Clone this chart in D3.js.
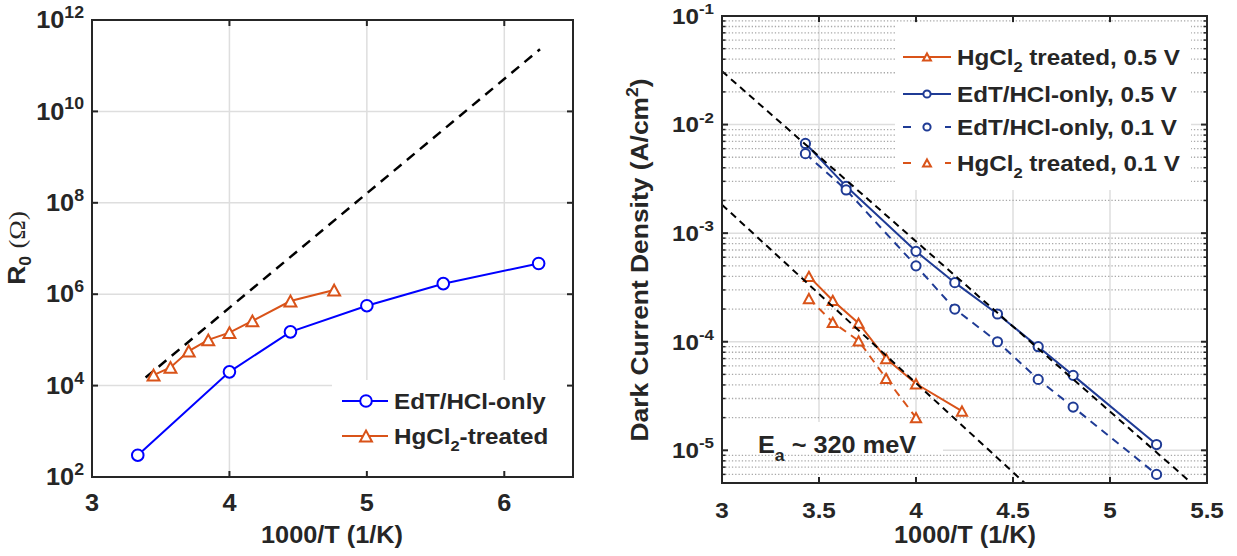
<!DOCTYPE html>
<html>
<head>
<meta charset="utf-8">
<script src="https://cdn.jsdelivr.net/npm/d3@7"></script>
<style>
  body { margin: 0; background: #fff; }
  svg { display: block; }
  text { font-family: "Liberation Sans", Arial, sans-serif; font-weight: bold; fill: #262626; }
</style>
</head>
<body>
<svg id="fig" width="1237" height="556"></svg>
<script>
// ---- left panel data: R0 vs 1000/T ----
var edtX = [3.333, 4.0, 4.444, 5.0, 5.556, 6.25];
var edtR0 = [300, 2.0e4, 1.5e5, 5.6e5, 1.7e6, 4.7e6];
var hgX = [3.448, 3.571, 3.704, 3.846, 4.0, 4.167, 4.444, 4.762];
var hgR0 = [1.7e4, 2.5e4, 5.7e4, 1.0e5, 1.44e5, 2.6e5, 7.1e5, 1.23e6];
var r0FitX = [3.39, 6.26];
var r0FitY = [1.5e4, 2.3e11];
var leftXTicks = [3, 4, 5, 6];
var leftYTicks = [1e2, 1e4, 1e6, 1e8, 1e10, 1e12];

// ---- right panel data: dark current density vs 1000/T ----
var edtJX = [3.43, 3.64, 4.0, 4.2, 4.42, 4.63, 4.81, 5.24];
var edtJ05 = [6.7e-3, 2.7e-3, 6.8e-4, 3.5e-4, 1.8e-4, 9.0e-5, 4.9e-5, 1.13e-5];
var edtJ01 = [5.4e-3, 2.5e-3, 5.0e-4, 2.0e-4, 1.0e-4, 4.5e-5, 2.5e-5, 6.0e-6];
var hgJX05 = [3.448, 3.571, 3.704, 3.846, 4.0, 4.237];
var hgJ05 = [4.0e-4, 2.4e-4, 1.48e-4, 7.0e-5, 4.1e-5, 2.3e-5];
var hgJX01 = [3.448, 3.571, 3.704, 3.846, 4.0];
var hgJ01 = [2.5e-4, 1.51e-4, 1.02e-4, 4.6e-5, 2.0e-5];
var fitUpperX = [3.0, 5.42], fitUpperY = [3.1e-2, 5e-6];
var fitLowerX = [3.0, 4.56], fitLowerY = [1.83e-3, 5e-6];
var rightXTicks = [3, 3.5, 4, 4.5, 5, 5.5];
var rightXLabels = ["3", "3.5", "4", "4.5", "5", "5.5"];
var rightYTicks = [1e-5, 1e-4, 1e-3, 1e-2, 1e-1];

var blue = "#0000ff", orange = "#d95319", navy = "#1f3b95";
var axisCol = "#262626", gridCol = "#dedede";
var SX = 1.1;   // the original text is rendered a bit wide

var svg = d3.select("#fig");

function stext(g, x, y, size, anchor, rot) {
    var gg = g.append("g")
        .attr("transform", "translate(" + x + "," + y + ")" + (rot ? " rotate(-90)" : "") + " scale(" + SX + ",1)");
    return gg.append("text").attr("font-size", size).attr("text-anchor", anchor);
}

function powLabel(g, x, y, exp, size) {
    var t = stext(g, x, y + size * 0.36, size, "end");
    t.append("tspan").text("10");
    t.append("tspan").attr("dy", -size * 0.45).attr("font-size", size * 0.7).text(exp);
}

function triPath(s) {
    return "M0," + (-s) + "L" + (s * 1.1) + "," + s + "L" + (-s * 1.1) + "," + s + "Z";
}

function drawSeries(g, xs, ys, x, y, col, dash, marker, ms) {
    var pts = xs.map(function(d, i) { return [x(d), y(ys[i])]; });
    g.append("path")
        .attr("d", d3.line()(pts))
        .attr("fill", "none").attr("stroke", col).attr("stroke-width", 2)
        .attr("stroke-dasharray", dash || null);
    pts.forEach(function(p) {
        if (marker == "o") {
            g.append("circle").attr("cx", p[0]).attr("cy", p[1]).attr("r", ms)
                .attr("fill", "#fff").attr("stroke", col).attr("stroke-width", 2);
        } else {
            g.append("path").attr("d", triPath(ms)).attr("transform", "translate(" + p[0] + "," + p[1] + ")")
                .attr("fill", "#fff").attr("stroke", col).attr("stroke-width", 2);
        }
    });
}

function legendMarker(g, x, y, marker, ms, col) {
    if (marker == "o") {
        g.append("circle").attr("cx", x).attr("cy", y).attr("r", ms)
            .attr("fill", "#fff").attr("stroke", col).attr("stroke-width", 2);
    } else {
        g.append("path").attr("d", triPath(ms)).attr("transform", "translate(" + x + "," + y + ")")
            .attr("fill", "#fff").attr("stroke", col).attr("stroke-width", 2);
    }
}

// ================= LEFT PANEL =================
var xL = d3.scaleLinear().domain([3, 6.5]).range([92, 573]);
var yL = d3.scaleLog().domain([1e2, 1e12]).range([477, 20]);
var gl = svg.append("g");

// grid
leftXTicks.slice(1).forEach(function(v) {
    gl.append("line").attr("x1", xL(v)).attr("x2", xL(v)).attr("y1", yL.range()[1]).attr("y2", yL.range()[0])
        .attr("stroke", gridCol).attr("stroke-width", 1.5);
});
leftYTicks.slice(1, -1).forEach(function(v) {
    gl.append("line").attr("x1", xL.range()[0]).attr("x2", xL.range()[1]).attr("y1", yL(v)).attr("y2", yL(v))
        .attr("stroke", gridCol).attr("stroke-width", 1.5);
});

// legend background
gl.append("rect").attr("x", 332).attr("y", 380).attr("width", 240).attr("height", 96).attr("fill", "#fff");

// fit line
gl.append("path")
    .attr("d", d3.line()(r0FitX.map(function(d, i) { return [xL(d), yL(r0FitY[i])]; })))
    .attr("stroke", "#000").attr("stroke-width", 2.5).attr("stroke-dasharray", "10,7").attr("fill", "none");

drawSeries(gl, edtX, edtR0, xL, yL, blue, null, "o", 5.8);
drawSeries(gl, hgX, hgR0, xL, yL, orange, null, "^", 5.4);

// box and ticks
gl.append("rect").attr("x", 92).attr("y", 20).attr("width", 481).attr("height", 457)
    .attr("fill", "none").attr("stroke", axisCol).attr("stroke-width", 2);
leftXTicks.forEach(function(v) {
    gl.append("line").attr("x1", xL(v)).attr("x2", xL(v)).attr("y1", 477).attr("y2", 471).attr("stroke", axisCol).attr("stroke-width", 2);
    gl.append("line").attr("x1", xL(v)).attr("x2", xL(v)).attr("y1", 20).attr("y2", 26).attr("stroke", axisCol).attr("stroke-width", 2);
    stext(gl, xL(v), 511, 23, "middle").text(String(v));
});
leftYTicks.forEach(function(v) {
    gl.append("line").attr("x1", 92).attr("x2", 98).attr("y1", yL(v)).attr("y2", yL(v)).attr("stroke", axisCol).attr("stroke-width", 2);
    gl.append("line").attr("x1", 573).attr("x2", 567).attr("y1", yL(v)).attr("y2", yL(v)).attr("stroke", axisCol).attr("stroke-width", 2);
    powLabel(gl, 84, yL(v), String(Math.round(Math.log10(v))), 23);
});

stext(gl, 332, 543, 23, "middle").text("1000/T (1/K)");
var ylab = stext(gl, 25, 248, 24, "middle", true);
ylab.append("tspan").text("R");
ylab.append("tspan").attr("font-size", 16).attr("dy", 6).text("0");
ylab.append("tspan").attr("dy", -6).text(" ");
ylab.append("tspan").attr("font-family", "'Liberation Serif', serif").attr("font-weight", "normal").text("(\u03A9)");

// legend
[["EdT/HCl-only", blue, "o", 401], ["HgCl|2|-treated", orange, "^", 436]].forEach(function(e) {
    gl.append("line").attr("x1", 342).attr("x2", 388).attr("y1", e[3]).attr("y2", e[3]).attr("stroke", e[1]).attr("stroke-width", 2);
    legendMarker(gl, 366, e[3], e[2], e[2] == "o" ? 5.8 : 5.4, e[1]);
    var t = stext(gl, 394, e[3] + 8, 22, "start");
    var parts = e[0].split("|");
    t.append("tspan").text(parts[0]);
    if (parts.length > 1) {
        t.append("tspan").attr("font-size", 15).attr("dy", 7).text(parts[1]);
        t.append("tspan").attr("dy", -7).text(parts[2]);
    }
});

// ================= RIGHT PANEL =================
var xR = d3.scaleLinear().domain([3, 5.5]).range([722, 1207]);
var yR = d3.scaleLog().domain([5e-6, 0.1]).range([483, 16]);
var gr = svg.append("g");
var allY = yR.ticks();
var minorY = allY.filter(function(v) { return Math.abs(Math.log10(v) - Math.round(Math.log10(v))) > 1e-6; });

// major grid
rightXTicks.slice(1, -1).forEach(function(v) {
    gr.append("line").attr("x1", xR(v)).attr("x2", xR(v)).attr("y1", 16).attr("y2", 483)
        .attr("stroke", gridCol).attr("stroke-width", 1.5);
});
rightYTicks.slice(0, -1).forEach(function(v) {
    gr.append("line").attr("x1", 722).attr("x2", 1207).attr("y1", yR(v)).attr("y2", yR(v))
        .attr("stroke", gridCol).attr("stroke-width", 1.5);
});
// annotation background hides major grid
gr.append("rect").attr("x", 723).attr("y", 422).attr("width", 220).attr("height", 60).attr("fill", "#fff");
// minor grid (dotted)
minorY.forEach(function(v) {
    gr.append("line").attr("x1", 722).attr("x2", 1207).attr("y1", yR(v)).attr("y2", yR(v))
        .attr("stroke", "#a8a8a8").attr("stroke-width", 1.3).attr("stroke-dasharray", "1.3,2");
});

drawSeries(gr, hgJX05, hgJ05, xR, yR, orange, null, "^", 4.6);
drawSeries(gr, hgJX01, hgJ01, xR, yR, orange, "8,6", "^", 4.6);
drawSeries(gr, edtJX, edtJ05, xR, yR, navy, null, "o", 4.6);
drawSeries(gr, edtJX, edtJ01, xR, yR, navy, "8,6", "o", 4.6);

// fit lines
[[fitUpperX, fitUpperY], [fitLowerX, fitLowerY]].forEach(function(f) {
    gr.append("path")
        .attr("d", d3.line()(f[0].map(function(d, i) { return [xR(d), yR(f[1][i])]; })))
        .attr("stroke", "#000").attr("stroke-width", 2).attr("stroke-dasharray", "7,5").attr("fill", "none");
});

// legend background
gr.append("rect").attr("x", 895).attr("y", 23).attr("width", 296).attr("height", 167).attr("fill", "#fff");

// box + ticks
gr.append("rect").attr("x", 722).attr("y", 16).attr("width", 485).attr("height", 467)
    .attr("fill", "none").attr("stroke", axisCol).attr("stroke-width", 2);
rightXTicks.forEach(function(v, i) {
    gr.append("line").attr("x1", xR(v)).attr("x2", xR(v)).attr("y1", 483).attr("y2", 477).attr("stroke", axisCol).attr("stroke-width", 2);
    gr.append("line").attr("x1", xR(v)).attr("x2", xR(v)).attr("y1", 16).attr("y2", 22).attr("stroke", axisCol).attr("stroke-width", 2);
    stext(gr, xR(v), 518, 22, "middle").text(rightXLabels[i]);
});
rightYTicks.forEach(function(v) {
    gr.append("line").attr("x1", 722).attr("x2", 728).attr("y1", yR(v)).attr("y2", yR(v)).attr("stroke", axisCol).attr("stroke-width", 2);
    gr.append("line").attr("x1", 1207).attr("x2", 1201).attr("y1", yR(v)).attr("y2", yR(v)).attr("stroke", axisCol).attr("stroke-width", 2);
    powLabel(gr, 714, yR(v), String(Math.round(Math.log10(v))), 22);
});
minorY.forEach(function(v) {
    gr.append("line").attr("x1", 722).attr("x2", 725.5).attr("y1", yR(v)).attr("y2", yR(v)).attr("stroke", axisCol).attr("stroke-width", 1.5);
    gr.append("line").attr("x1", 1207).attr("x2", 1203.5).attr("y1", yR(v)).attr("y2", yR(v)).attr("stroke", axisCol).attr("stroke-width", 1.5);
});

stext(gr, 965, 543, 23, "middle").text("1000/T (1/K)");
var ylab2 = stext(gr, 648, 260, 24, "middle", true);
ylab2.append("tspan").text("Dark Current Density (A/cm");
ylab2.append("tspan").attr("font-size", 16).attr("dy", -10).text("2");
ylab2.append("tspan").attr("dy", 10).text(")");

// E_a annotation
var ea = stext(gr, 758, 453, 23, "start");
ea.append("tspan").text("E");
ea.append("tspan").attr("font-size", 16).attr("dy", 8).text("a");
ea.append("tspan").attr("dy", -8).text(" ~ 320 meV");

// legend
var legR = [
    ["HgCl|2| treated, 0.5 V", orange, "^", null, 57],
    ["EdT/HCl-only, 0.5 V", navy, "o", null, 94],
    ["EdT/HCl-only, 0.1 V", navy, "o", "8,34", 127],
    ["HgCl|2| treated, 0.1 V", orange, "^", "8,34", 163]
];
legR.forEach(function(e) {
    gr.append("line").attr("x1", 903).attr("x2", 951).attr("y1", e[4]).attr("y2", e[4])
        .attr("stroke", e[1]).attr("stroke-width", 2).attr("stroke-dasharray", e[3]);
    legendMarker(gr, 927, e[4], e[2], 3.6, e[1]);
    var t = stext(gr, 957, e[4] + 8, 22, "start");
    var parts = e[0].split("|");
    t.append("tspan").text(parts[0]);
    if (parts.length > 1) {
        t.append("tspan").attr("font-size", 15).attr("dy", 7).text(parts[1]);
        t.append("tspan").attr("dy", -7).text(parts[2]);
    }
});
</script>
</body>
</html>
